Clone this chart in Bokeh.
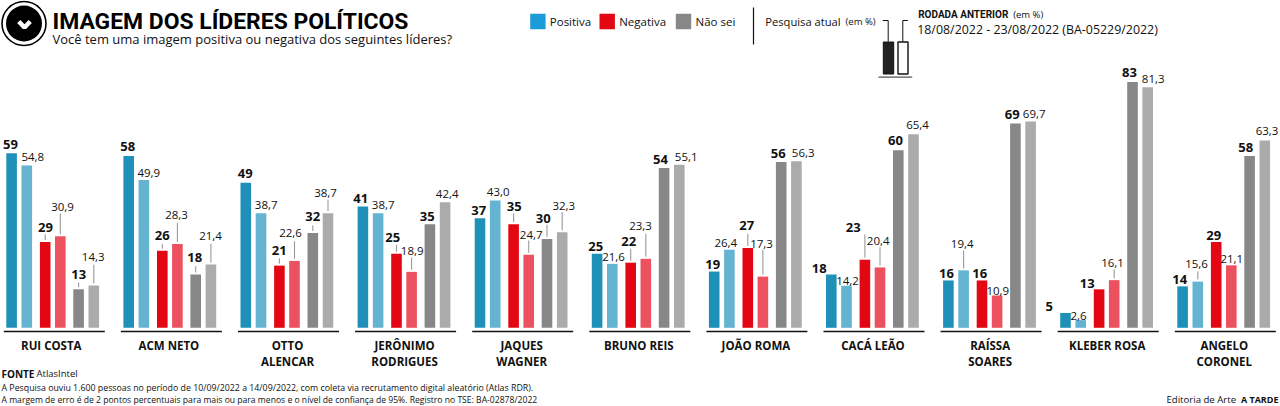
from bokeh.plotting import figure
from bokeh.models import Range1d
from bokeh.core.properties import value
from bokeh.embed import file_html
from bokeh.resources import INLINE

categories = [["RUI COSTA"], ["ACM NETO"], ["OTTO", "ALENCAR"], ["JERÔNIMO", "RODRIGUES"], ["JAQUES", "WAGNER"],
              ["BRUNO REIS"], ["JOÃO ROMA"], ["CACÁ LEÃO"], ["RAÍSSA", "SOARES"], ["KLEBER ROSA"], ["ANGELO", "CORONEL"]]
pos_now = [59, 58, 49, 41, 37, 25, 19, 18, 16, 5, 14]
pos_prev = [54.8, 49.9, 38.7, 38.7, 43.0, 21.6, 26.4, 14.2, 19.4, 2.6, 15.6]
neg_now = [29, 26, 21, 25, 35, 22, 27, 23, 16, 13, 29]
neg_prev = [30.9, 28.3, 22.6, 18.9, 24.7, 23.3, 17.3, 20.4, 10.9, 16.1, 21.1]
ns_now = [13, 18, 32, 35, 30, 54, 56, 60, 69, 83, 58]
ns_prev = [14.3, 21.4, 38.7, 42.4, 32.3, 55.1, 56.3, 65.4, 69.7, 81.3, 63.3]

series = [pos_now, pos_prev, neg_now, neg_prev, ns_now, ns_prev]
colors = ["#1f90b8", "#63b3d1", "#e30613", "#ec5160", "#878787", "#ababab"]

# layout (pixels on the page)
W, H = 1280, 406
BASE = 327.3
PX = 2.96
FONT = "Open Sans"
PERIOD = 117.1
BAR_W = 10.6
bar_off = [5.8, 21.0, 39.4, 54.5, 72.8, 88.0]
name_shift = [-3, -2.5, -1, -1, -1, -1, -1, -1, -1, -1, -1]

# per group, per bar: label x, label y, top of leader line (or None)
labels = [
    [(10, 143.7, None), (32.3, 156, None), (45, 226.7, 233.7), (62, 206.3, 213), (78.3, 274.3, 282), (92.7, 256.3, 264.3)],
    [(127.3, 145.7, None), (148.3, 172.3, None), (161.7, 234.7, 243.3), (176, 214, 222.3), (194.3, 257, 265.7), (210, 235, 243.3)],
    [(244.7, 173.3, None), (265.7, 204.7, None), (278.7, 250.3, 257.7), (290, 232.3, 240.7), (312.3, 215.7, 225), (325, 192.3, 199.3)],
    [(360.3, 198, None), (382.7, 204.7, None), (392.3, 237, 244.3), (411.7, 250.7, 257), (426.7, 216, None), (446.7, 193.3, None)],
    [(478.3, 210, None), (497.7, 191.3, None), (513.7, 206.3, 212.7), (530.7, 234, 240), (542.7, 218, 224.3), (563.3, 205.7, 211.7)],
    [(595.3, 246.3, None), (613, 256.7, None), (628.3, 240.7, 248.3), (640, 225, 233.3), (660, 159.3, None), (685.7, 156.7, None)],
    [(712.3, 263.7, None), (725.3, 242.7, None), (746.3, 224.7, 233.3), (761, 243.3, 249), (777.7, 152.7, None), (802.7, 152.7, None)],
    [(818.7, 267.7, None), (847, 280.7, None), (852.7, 226.7, 234), (877.7, 240.3, 246.7), (895, 140.3, None), (917, 124, None)],
    [(946, 273, None), (961.7, 243, 250), (979.3, 273, None), (997.3, 290, None), (1011.7, 113.7, None), (1033.7, 113, None)],
    [(1048.7, 306, None), (1078, 315.7, None), (1086.7, 283.3, None), (1112, 262.3, 269), (1129, 71.7, None), (1152.7, 78, None)],
    [(1179.3, 279, None), (1196, 263.7, 271), (1213.3, 234.7, None), (1231.3, 258.3, None), (1245.3, 147.3, None), (1266.5, 130.3, None)],
]


def Y(py):
    return (BASE - py) / PX


p = figure(width=W, height=H, output_backend="svg", toolbar_location=None,
           x_range=Range1d(0, W), y_range=Range1d(Y(H), Y(0)),
           min_border=0, outline_line_color=None)
p.axis.visible = False
p.grid.visible = False
p.background_fill_color = "white"


def T(x, py, s, size, bold=False, align="left", color="#111111", font=FONT):
    p.text([x], [Y(py)], text=[s], text_font=value(font), text_font_size=f"{size}px",
           text_font_style="bold" if bold else "normal", text_align=align,
           text_baseline="middle", text_color=color)


def L(xs, pys, color="#111111", w=1.0):
    p.line(xs, [Y(v) for v in pys], line_color=color, line_width=w)


# bars, axes, labels
for i, (names, group) in enumerate(zip(categories, labels)):
    x0 = PERIOD * i
    for j, s in enumerate(series):
        left = x0 + bar_off[j]
        v = s[i]
        p.quad(left=[left], right=[left + BAR_W], bottom=[0], top=[v], fill_color=colors[j], line_color=None)
        lx, ly, ltop = group[j]
        if ltop is not None:
            L([left + BAR_W / 2] * 2, [ltop, BASE - v * PX - 2], color="#9a9a9a", w=1.1)
        txt = str(v) if j % 2 == 0 else f"{v:.1f}".replace(".", ",")
        T(lx, ly, txt, 13 if j % 2 == 0 else 11.5, bold=j % 2 == 0, align="center")
    L([x0 + 3.3, x0 + 104.3], [331, 331], w=1.4)
    for k, nm in enumerate(names):
        T(x0 + 53.8 + name_shift[i], 345 + 16 * k, nm, 11.5, bold=True, align="center")

# header
p.scatter([23.5], [Y(23)], size=44, marker="circle", fill_color="white", line_color="#000000", line_width=1.6)
p.scatter([23.5], [Y(23)], size=36, marker="circle", fill_color="#000000", line_color=None)
L([18.3, 24, 29.7], [21, 27, 21], color="white", w=4.5)
T(52, 20.5, "IMAGEM DOS LÍDERES POLÍTICOS", 22.9, bold=True, color="#000000", font="Roboto")
T(52, 38.7, "Você tem uma imagem positiva ou negativa dos seguintes líderes?", 13)

# legend
legend_items = [("Positiva", "#1b9cd8", 529.7, 549.3), ("Negativa", "#e30613", 599, 618.7), ("Não sei", "#878787", 675.3, 695)]
for name, col, sx, tx in legend_items:
    p.quad(left=[sx], right=[sx + 15.4], bottom=[Y(28.7)], top=[Y(13.3)], fill_color=col, line_color=None)
    T(tx, 20.7, name, 11.5)
L([753, 753], [7, 44], w=1.2)

T(764.7, 20.7, "Pesquisa atual", 11.2)
T(845, 21, "(em %)", 9.5)
L([882.3, 887.7, 887.7], [20, 20, 41], w=1.0)
L([907.3, 902.3, 902.3], [20, 20, 41], w=1.0)
p.quad(left=[882.8], right=[893.2], bottom=[Y(73.5)], top=[Y(41.5)], fill_color="#222222", line_color="#111111", line_width=1)
p.quad(left=[897.5], right=[907.5], bottom=[Y(73.5)], top=[Y(41.5)], fill_color="white", line_color="#111111", line_width=1.4)
L([878, 911.7], [76.7, 76.7], color="#555555", w=1.2)
T(917.7, 14, "RODADA ANTERIOR", 10, bold=True, font="Roboto")
T(1012.7, 14, "(em %)", 9.5)
T(916.7, 29.3, "18/08/2022 - 23/08/2022 (BA-05229/2022)", 12.4)

# footer
T(1, 373, "FONTE", 10, bold=True)
T(36, 373, "AtlasIntel", 9.5)
T(1, 387.5, "A Pesquisa ouviu 1.600 pessoas no período de 10/09/2022 a 14/09/2022, com coleta via recrutamento digital aleatório (Atlas RDR).", 8.8)
T(1, 399, "A margem de erro é de 2 pontos percentuais para mais ou para menos e o nível de confiança de 95%. Registro no TSE: BA-02878/2022", 8.6)
T(1166, 399, "Editoria de Arte", 9.6)
T(1278, 399, "A TARDE", 9, bold=True, align="right")

open("out.html", "w").write(file_html(p, INLINE))
